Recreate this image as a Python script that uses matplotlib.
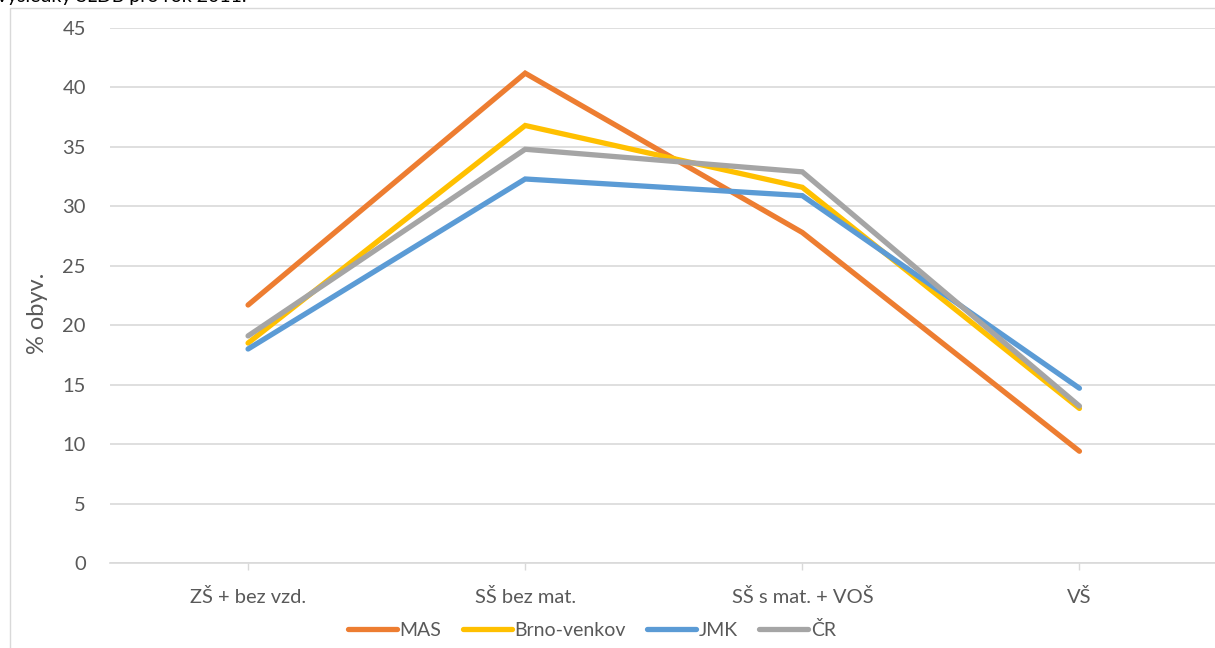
import matplotlib.pyplot as plt
from matplotlib.patches import Rectangle

categories = ['ZŠ + bez vzd.', 'SŠ bez mat.', 'SŠ s mat. + VOŠ', 'VŠ']
series_names = ['MAS', 'Brno-venkov', 'JMK', 'ČR']
mas = [21.7, 41.2, 27.8, 9.4]
brno_venkov = [18.5, 36.8, 31.6, 13.0]
jmk = [18.0, 32.3, 30.9, 14.7]
cr = [19.1, 34.8, 32.9, 13.2]
yticks = list(range(0, 50, 5))

colors = ['#ED7D31', '#FFC000', '#5B9BD5', '#A5A5A5']
values = [mas, brno_venkov, jmk, cr]

W, H = 1215, 648
plt.rcParams['font.family'] = ['Lato', 'DejaVu Sans']
fig = plt.figure(figsize=(W / 100, H / 100), dpi=100)

# chart border (cropped on the right/bottom in the original)
fig.patches.append(Rectangle((10 / W, -0.1), 1.2, 1 - 8 / H + 0.1, transform=fig.transFigure,
                             fill=False, edgecolor='#D9D9D9', linewidth=1.0))

# title line, cut off at the top like in the original
fig.text(-3 / W, 1 - 2 / H, 'výsledky SLDB pro rok 2011.', fontsize=14, color='#000000',
         va='baseline', ha='left')

left, right = 109.5 / W, 1218 / W
bottom, top = (H - 563) / H, (H - 28) / H
ax = fig.add_axes([left, bottom, right - left, top - bottom])

x = list(range(len(categories)))
for name, vals, c in zip(series_names, values, colors):
    ax.plot(x, vals, color=c, linewidth=3.8, solid_capstyle='round',
            solid_joinstyle='miter', label=name)

ax.set_xlim(-0.5, len(categories) - 0.5)
ax.set_ylim(0, 45)
ax.set_yticks(yticks)
ax.set_xticks(x)
ax.set_xticklabels(categories)
ax.grid(axis='y', color='#D9D9D9', linewidth=1.2)
ax.set_axisbelow(True)
for s in ['top', 'right', 'left']:
    ax.spines[s].set_visible(False)
ax.spines['bottom'].set_color('#D9D9D9')
ax.spines['bottom'].set_linewidth(1.2)
ax.tick_params(axis='y', length=0, pad=17, labelsize=14.5, labelcolor='#595959')
ax.tick_params(axis='x', length=5, width=1, color='#D9D9D9', pad=13,
               labelsize=14.5, labelcolor='#595959')

fig.text(37 / W, 1 - 313 / H, '% obyv.', rotation=90, fontsize=17, color='#595959',
         ha='center', va='center')

fig.legend(loc='center', bbox_to_anchor=(592 / W, 1 - 630 / H), ncol=4, frameon=False,
           fontsize=14, labelcolor='#595959', handlelength=2.5, handletextpad=0.15,
           columnspacing=1.1, borderaxespad=0)

fig.savefig('out.png', dpi=100)
